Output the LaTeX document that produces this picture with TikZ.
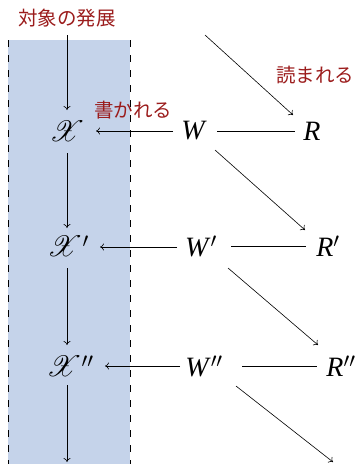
\documentclass[tikz,border=0pt]{standalone}
\usepackage{fontspec}
\usepackage{graphicx}
\usepackage{mathrsfs}
\setmainfont{Liberation Serif}
\newfontfamily\jpfont{Noto Sans CJK JP}
\usetikzlibrary{arrows.meta}
\definecolor{bandblue}{RGB}{197,211,234}
\definecolor{labelred}{RGB}{155,28,28}
\newcommand{\bigX}{\scalebox{1.18}{$\mathscr{X}$}}
\begin{document}
\begin{tikzpicture}[x=1pt,y=-1pt,
  mathnode/.style={inner sep=1pt,font=\fontsize{28}{32}\selectfont},
  jplabel/.style={text=labelred,font=\jpfont\fontsize{19.5}{22}\selectfont,inner sep=0pt},
  arr/.style={-{To[length=4pt,width=7pt]},line width=0.6pt},
  plain/.style={line width=0.6pt},
  bandedge/.style={dash pattern=on 7pt off 8pt,line width=0.7pt}]
\useasboundingbox (0,0) rectangle (360,464);
\fill[bandblue] (8,40) rectangle (130,464);
\draw[bandedge] (8,40) -- (8,464);
\draw[bandedge] (130,40) -- (130,464);

\node[jplabel] (top) at (67,18) {対象の発展};
\node[jplabel] (read) at (315,75) {読まれる};
\node[jplabel] (write) at (133,110) {書かれる};

\node[mathnode] (X0) at (67,131) {\bigX};
\node[mathnode] (X1) at (68,246) {\bigX$'$};
\node[mathnode] (X2) at (70,366) {\bigX$''$};
\node[mathnode] (W0) at (194,131) {\textit{W}};
\node[mathnode] (W1) at (201,246) {\textit{W}$'$};
\node[mathnode] (W2) at (204,366) {\textit{W}$''$};
\node[mathnode] (R0) at (312,131) {\textit{R}};
\node[mathnode] (R1) at (328,246) {\textit{R}$'$};
\node[mathnode] (R2) at (341,366) {\textit{R}$''$};

\coordinate (topa) at (67,35);
\coordinate (bot) at (67,462);
\coordinate (d0) at (205,35);
\coordinate (d3e) at (333,462);

\draw[arr] (topa) -- (67,110);
\draw[arr] (67,153) -- (67,228);
\draw[arr] (67,268) -- (67,345);
\draw[arr] (67,385) -- (bot);

\draw[arr] (173,131) -- (96,131);
\draw[arr] (177,247) -- (100,247);
\draw[arr] (180,366) -- (105,366);

\draw[plain] (217,131) -- (295,131);
\draw[plain] (231,246) -- (306,246);
\draw[plain] (242,366) -- (317,366);

\draw[arr] (d0) -- (293,115);
\draw[arr] (215,150) -- (305,230);
\draw[arr] (228,268) -- (318,345);
\draw[arr] (236,386) -- (d3e);
\end{tikzpicture}
\end{document}
